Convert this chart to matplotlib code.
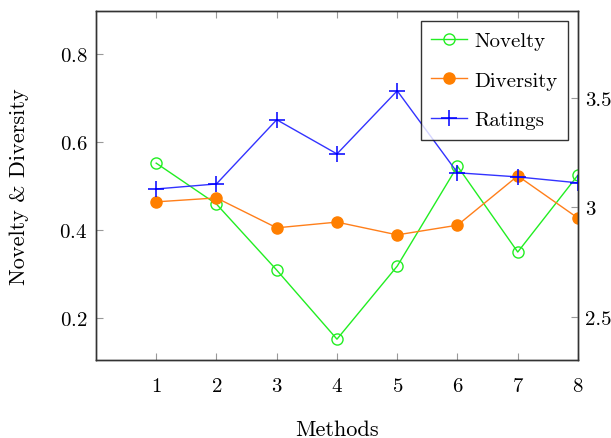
import matplotlib
matplotlib.use("Agg")
import matplotlib.pyplot as plt
from matplotlib.ticker import FixedLocator, FuncFormatter

methods = [1, 2, 3, 4, 5, 6, 7, 8]
novelty = [0.552, 0.459, 0.309, 0.152, 0.318, 0.545, 0.350, 0.525]
diversity = [0.464, 0.473, 0.405, 0.418, 0.389, 0.411, 0.523, 0.427]
ratings = [3.084, 3.107, 3.400, 3.244, 3.532, 3.158, 3.139, 3.112]
left_ticks = [0.2, 0.4, 0.6, 0.8]
right_ticks = [2.5, 3.0, 3.5]

plt.rcParams["font.family"] = "serif"
plt.rcParams["font.serif"] = ["cmr10"]
plt.rcParams["mathtext.fontset"] = "cm"
plt.rcParams["axes.formatter.use_mathtext"] = True

fig = plt.figure(figsize=(6.11, 4.39), dpi=100)
ax = fig.add_axes([0.157, 0.178, 0.789, 0.795])
ax2 = ax.twinx()

l1, = ax.plot(methods, novelty, color="#22ee22", lw=1.0, marker="o", ms=8,
              mfc="none", mec="#22ee22", mew=1.0, label="Novelty")
l2, = ax.plot(methods, diversity, color="#ff7f1a", lw=1.0, marker="o", ms=8,
              mfc="#ff7f00", mec="#ff7f00", label="Diversity")
l3, = ax2.plot(methods, ratings, color="#3333ff", lw=1.0, marker="+", ms=11,
               mew=1.1, mec="#0000ff", label="Ratings")

ax.set_xlim(0, 8)
ax.set_ylim(0.105, 0.898)
ax2.set_ylim(2.304, 3.897)

ax.xaxis.set_major_locator(FixedLocator(methods))
ax.yaxis.set_major_locator(FixedLocator(left_ticks))
ax2.yaxis.set_major_locator(FixedLocator(right_ticks))
ax2.yaxis.set_major_formatter(FuncFormatter(lambda v, p: f"{v:g}"))

ax.tick_params(axis="x", direction="in", top=True, bottom=True, length=5,
               color="#999999", labelsize=15, pad=12)
ax.tick_params(axis="y", direction="in", left=True, right=False, length=5,
               color="#999999", labelsize=15, pad=6)
ax2.tick_params(axis="y", direction="in", right=True, length=5,
                color="#999999", labelsize=15, pad=5)

for a in (ax, ax2):
    for s in a.spines.values():
        s.set_linewidth(1.0)
        s.set_color("#333333")

ax.set_xlabel("Methods", fontsize=16, labelpad=18)
ax.set_ylabel("Novelty & Diversity", fontsize=16, labelpad=22)

leg = ax2.legend(handles=[l1, l2, l3], loc="upper right", fontsize=15,
                 frameon=True, fancybox=False, edgecolor="black",
                 borderaxespad=0.5, handlelength=1.7, labelspacing=1.0,
                 handletextpad=0.35, borderpad=0.5)
leg.get_frame().set_linewidth(1.0)

fig.savefig("out.png", dpi=100)
